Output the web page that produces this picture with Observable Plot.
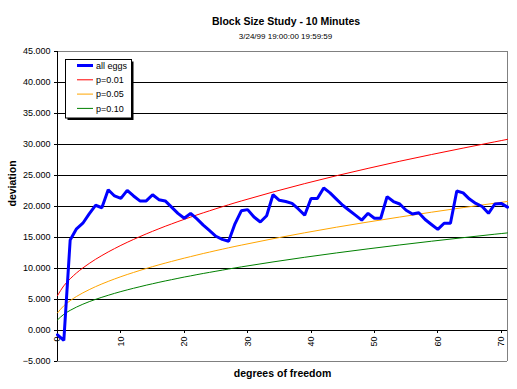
<!DOCTYPE html>
<html>
<head>
<meta charset="utf-8">
<script src="https://cdn.jsdelivr.net/npm/d3@7"></script>
<script src="https://cdn.jsdelivr.net/npm/@observablehq/plot@0.6"></script>
<style>
  html, body { margin: 0; padding: 0; background: #fff; }
  #chart svg { display: block; }
</style>
</head>
<body>
<div id="chart"></div>
<script>
// ---- data ----
const title = "Block Size Study - 10 Minutes";
const subtitle = "3/24/99 19:00:00 19:59:59";
const xLabel = "degrees of freedom";
const yLabel = "deviation";
const seriesNames = ["all eggs", "p=0.01", "p=0.05", "p=0.10"];
const seriesColors = ["#0000ff", "#ff0000", "#ffa500", "#008000"];

// all eggs: one value per degree of freedom 0..71
const allEggs = [-0.7, -1.6, 14.6, 16.4, 17.3, 18.8, 20.2, 19.8, 22.7, 21.7,
  21.3, 22.6, 21.7, 20.9, 20.9, 21.9, 21.1, 20.9, 19.9, 18.9,
  18.1, 18.9, 18.0, 17.0, 16.1, 15.2, 14.7, 14.4, 17.2, 19.3,
  19.5, 18.3, 17.5, 18.5, 21.9, 21.0, 20.8, 20.5, 19.6, 18.6,
  21.3, 21.3, 23.0, 22.2, 21.2, 20.2, 19.4, 18.6, 17.8, 18.9,
  18.1, 18.1, 21.6, 20.8, 20.4, 19.4, 18.8, 19.0, 17.9, 17.1,
  16.3, 17.3, 17.3, 22.5, 22.2, 21.2, 20.5, 20.0, 18.9, 20.4,
  20.5, 19.9];

// threshold curves, read at these degrees of freedom
const curveX = [0,1,2,3,4,5,6,7,8,9,10,11,12,13,14,15,16,17,18,19,20,21,22,23,24,25,26,27,28,29,34,39,44,49,54,59,64,69,71];
const p01 = [5.63,7.21,8.34,9.28,10.09,10.81,11.48,12.09,12.67,13.21,13.73,14.22,14.69,15.14,15.58,16.00,16.41,16.81,17.19,17.57,17.93,18.29,18.64,18.98,19.31,19.64,19.96,20.28,20.59,20.89,22.34,23.69,24.96,26.15,27.30,28.38,29.42,30.43,30.83];
const p05 = [2.84,3.99,4.81,5.49,6.07,6.59,7.07,7.51,7.92,8.31,8.68,9.03,9.36,9.69,10.00,10.30,10.59,10.87,11.14,11.41,11.67,11.92,12.17,12.42,12.65,12.89,13.11,13.34,13.56,13.77,14.80,15.76,16.66,17.50,18.30,19.08,19.82,20.53,20.81];
const p10 = [1.71,2.61,3.25,3.78,4.24,4.65,5.02,5.36,5.68,5.99,6.28,6.55,6.81,7.06,7.31,7.54,7.77,7.99,8.20,8.41,8.62,8.81,9.01,9.20,9.38,9.56,9.74,9.92,10.09,10.26,11.06,11.81,12.51,13.17,13.80,14.40,14.97,15.53,15.74];

const yTicks = [-5, 0, 5, 10, 15, 20, 25, 30, 35, 40, 45];
const gridValues = [0, 5, 10, 15, 20, 25, 30, 35, 40];
const xTicks = [0, 10, 20, 30, 40, 50, 60, 70];

// ---- tables ----
const blueData = allEggs.map((v, i) => ({x: i, y: v}));
const curveData = [];
[p01, p05, p10].forEach((arr, s) => {
  arr.forEach((v, i) => curveData.push({series: seriesNames[s + 1], x: curveX[i], y: v}));
});

const font = "'Liberation Sans', Arial, sans-serif";
const fmt = d3.format(".3f");

const chart = Plot.plot({
  width: 517,
  height: 389,
  marginLeft: 57,
  marginRight: 10,
  marginTop: 51,
  marginBottom: 28,
  x: {domain: [0, 71], axis: null},
  y: {domain: [-5, 45], axis: null},
  color: {domain: seriesNames, range: seriesColors},
  style: {fontFamily: font, background: "#fff", color: "#000"},
  marks: [
    Plot.ruleY([45, -5], {stroke: "#808080", strokeWidth: 1, shapeRendering: "crispEdges"}),
    Plot.ruleX([71], {stroke: "#808080", strokeWidth: 1, shapeRendering: "crispEdges"}),
    Plot.ruleY(gridValues, {stroke: "#000", strokeWidth: 1, shapeRendering: "crispEdges"}),
    Plot.ruleX([0], {y1: -5, y2: 45, stroke: "#000", strokeWidth: 1, shapeRendering: "crispEdges"}),
    Plot.ruleY(yTicks, {x1: -0.5, x2: 0, stroke: "#000", shapeRendering: "crispEdges"}),
    Plot.text(yTicks, {x: 0, y: d => d, text: d => fmt(d), textAnchor: "end", dx: -7, fontSize: 9, fill: "#000"}),
    Plot.ruleX(xTicks, {y1: 0, y2: -0.5, stroke: "#000", shapeRendering: "crispEdges"}),
    Plot.text(xTicks, {x: d => d, y: 0, text: d => String(d), rotate: -90, textAnchor: "end", dy: 6, fontSize: 9, fill: "#000"}),
    Plot.line(curveData, {x: "x", y: "y", z: "series", stroke: "series", strokeWidth: 1, curve: "monotone-x"}),
    Plot.line(blueData, {x: "x", y: "y", stroke: seriesColors[0], strokeWidth: 3, strokeLinejoin: "miter"}),
    Plot.text([title], {frameAnchor: "top", dy: -34, dx: 3.5, text: d => d, fontSize: 10.5, fontWeight: "bold", fill: "#000"}),
    Plot.text([subtitle], {frameAnchor: "top", dy: -18, dx: 3, text: d => d, fontSize: 8, fill: "#000"}),
    Plot.text([xLabel], {frameAnchor: "bottom", dy: 15, text: d => d, fontSize: 10.5, fontWeight: "bold", fill: "#000"}),
    Plot.text([yLabel], {frameAnchor: "left", dx: -45, rotate: -90, text: d => d, fontSize: 10.5, fontWeight: "bold", fill: "#000"})
  ]
});

// legend box inside the plot
const svg = d3.select(chart);
const lg = svg.append("g").attr("font-family", font).attr("font-size", 9).attr("text-anchor", "start");
lg.append("rect").attr("x", 67.5).attr("y", 61.5).attr("width", 66).attr("height", 58.5).attr("fill", "#000");
lg.append("rect").attr("x", 65.5).attr("y", 59.5).attr("width", 66).attr("height", 58.5).attr("fill", "#fff").attr("stroke", "#000");
seriesNames.forEach((name, i) => {
  const y = 65.5 + i * 14.3;
  lg.append("line").attr("x1", 77).attr("x2", 93).attr("y1", y).attr("y2", y)
    .attr("stroke", seriesColors[i]).attr("stroke-width", i === 0 ? 3 : 1);
  lg.append("text").attr("x", 96).attr("y", y).attr("dy", "0.35em")
    .attr("text-anchor", "start").attr("fill", "#000").text(name);
});

document.getElementById("chart").appendChild(chart);
</script>
</body>
</html>
